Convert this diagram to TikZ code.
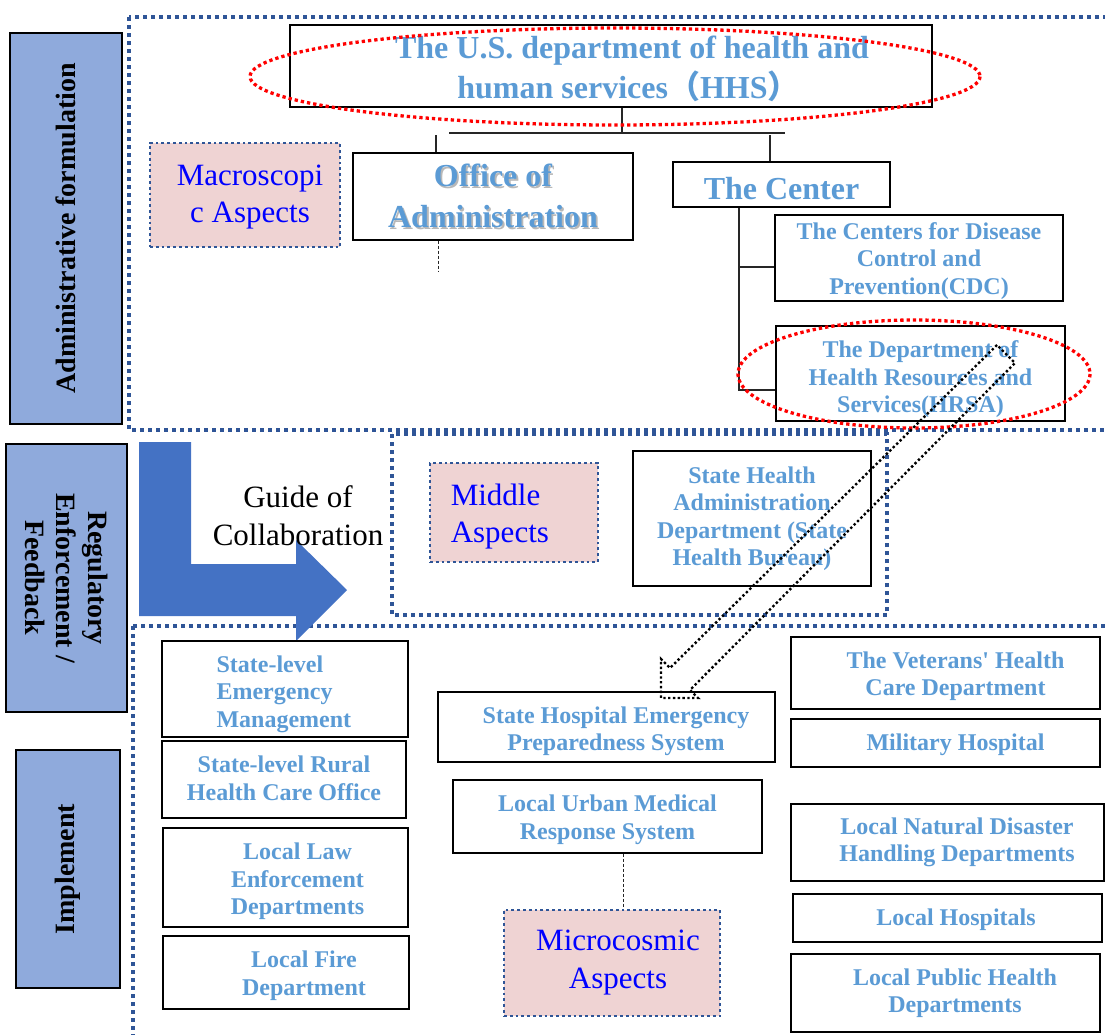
\documentclass[tikz,border=0pt]{standalone}
\usepackage{fontspec}
\setmainfont{Liberation Serif}
\newfontfamily\cjkf{Noto Sans CJK SC}
\definecolor{lblue}{HTML}{5B9BD5}
\definecolor{sideblue}{HTML}{8FAADC}
\definecolor{frameblue}{HTML}{2F5597}
\definecolor{pinkfill}{HTML}{EFD3D3}
\definecolor{arrowblue}{HTML}{4472C4}
\definecolor{pureblue}{HTML}{0000FF}
\newcommand\shtext[1]{\leavevmode\rlap{\hspace{1.8pt}\raisebox{-1.8pt}{\textcolor{black!28}{#1}}}#1}
\tikzset{
  box/.style={draw=black, line width=1.3pt, fill=white, inner sep=0pt},
  txt/.style={inner sep=0pt, align=center},
  btext/.style={txt, font=\bfseries\fontsize{24}{27.5}\selectfont, text=lblue},
  bigtext/.style={txt, font=\bfseries\fontsize{32}{40}\selectfont, text=lblue},
  side/.style={draw=black, line width=1.3pt, fill=sideblue, inner sep=0pt, align=center,
               font=\bfseries\fontsize{28}{31.5}\selectfont},
  frame/.style={draw=frameblue, line width=3.8pt, dash pattern=on 3.8pt off 4.2pt},
  aspect/.style={draw=frameblue, fill=pinkfill, line width=2.8pt, dash pattern=on 2.8pt off 3pt, inner sep=0pt},
  atext/.style={txt, font=\fontsize{31}{37.5}\selectfont, text=pureblue},
  redring/.style={draw=red, line width=3.3pt, dash pattern=on 3.3pt off 3pt},
  conn/.style={draw=black!85, line width=1.2pt},
  dconn/.style={draw=black!85, line width=1pt, dash pattern=on 3pt off 2pt},
  hollowarrow/.style={draw=black, line width=2.4pt, dash pattern=on 2.4pt off 2.4pt},
}
\begin{document}
\begin{tikzpicture}[x=1pt,y=-1pt]
\useasboundingbox (0,0) rectangle (1105,1034);
\clip (0,0) rectangle (1105,1034);

% dotted frames
\draw[frame] (129,17) rectangle (1125,430);
\draw[frame] (392,434) rectangle (887,615);
\draw[frame] (133,626) rectangle (1125,1060);

% side labels
\node[side, rotate=90, minimum width=391pt, minimum height=112pt] (adm) at (66,228.5) {Administrative formulation};
\node[side, rotate=-90, minimum width=268pt, minimum height=121pt] (reg) at (66.5,578) {Regulatory\\Enforcement /\\Feedback};
\node[side, rotate=90, minimum width=238pt, minimum height=104pt] (imp) at (68,869) {Implement};

% top level
\node[box, minimum width=642pt, minimum height=82pt] (hhs) at (611,66) {};
\node[bigtext, xshift=17.5pt, yshift=-3pt] (hhsT) at (hhs)
  {\hspace*{7pt}The U.S. department of health and\\human services{\cjkf （}HHS{\cjkf ）}};
\node[box, minimum width=280pt, minimum height=87pt] (office) at (493,196.5) {};
\node[bigtext, font=\bfseries\fontsize{32}{41}\selectfont] (officeT) at (office)
  {\shtext{Office of}\\\shtext{Administration}};
\node[box, minimum width=217pt, minimum height=45pt] (center) at (781.5,184.5) {};
\node[bigtext, yshift=-4pt] (centerT) at (center) {The Center};
\node[box, minimum width=288pt, minimum height=86pt] (cdc) at (919,258) {};
\node[btext, yshift=-3pt] (cdcT) at (cdc) {The Centers for Disease\\Control and\\Prevention(CDC)};
\node[box, minimum width=289pt, minimum height=95pt] (hrsa) at (920.5,373.5) {};
\node[btext, yshift=-6pt] (hrsaT) at (hrsa) {The Department of\\Health Resources and\\Services(HRSA)};
\node[aspect, minimum width=190pt, minimum height=104pt] (macro) at (245,195) {};
\node[atext, xshift=5pt, yshift=-2pt] (macroT) at (macro) {Macroscopi\\c Aspects};

% connectors top
\coordinate (j1) at (622,133);
\coordinate (busL) at (449,133);
\coordinate (busR) at (785,133);
\coordinate (j2) at (436,135);
\coordinate (j3) at (770,135);
\coordinate (oe) at (438,272);
\coordinate (cv) at (739,0);
\coordinate (cdcy) at (0,267);
\coordinate (hrsay) at (0,390);
\draw[conn] (j1 |- hhs.south) -- (j1);
\draw[conn] (busL) -- (busR);
\draw[conn] (j2) -- (j2 |- office.north);
\draw[conn] (j3) -- (j3 |- center.north);
\draw[dconn] (oe |- office.south) -- (oe);
\draw[conn] (cv |- center.south) -- (cv |- hrsay) -- (hrsa.west |- hrsay);
\draw[conn] (cv |- cdcy) -- (cdc.west |- cdcy);

% middle level
\node[aspect, minimum width=168pt, minimum height=99pt] (middle) at (514,512.5) {};
\node[atext, align=left, anchor=west, xshift=22pt, yshift=-4pt] (middleT) at (middle.west) {Middle\\Aspects};
\node[box, minimum width=238pt, minimum height=135pt] (shealth) at (752,518.5) {};
\node[btext] (shealthT) at (shealth) {State Health\\Administration\\Department (State\\Health Bureau)};

% guide arrow
\fill[arrowblue] (139,442) -- (191,442) -- (191,564) -- (296,564) -- (296,540) -- (347,590)
  -- (296,641) -- (296,616) -- (139,616) -- cycle;
\node[txt, font=\fontsize{31}{38}\selectfont] (guide) at (298,516) {Guide of\\Collaboration};

% bottom level, left column
\node[box, minimum width=246pt, minimum height=96pt] (sem) at (285,689) {};
\node[btext, align=left, anchor=west, xshift=55pt, yshift=-5pt] (semT) at (sem.west) {State-level\\Emergency\\Management};
\node[box, minimum width=244pt, minimum height=77pt] (rural) at (284,779.5) {};
\node[btext, yshift=1pt] (ruralT) at (rural) {State-level Rural\\Health Care Office};
\node[box, minimum width=245pt, minimum height=99pt] (law) at (285.5,877.5) {};
\node[btext, xshift=12pt, yshift=-4pt] (lawT) at (law) {Local Law\\Enforcement\\Departments};
\node[box, minimum width=246pt, minimum height=73pt] (fire) at (286,972.5) {};
\node[btext, xshift=18pt, yshift=-3pt] (fireT) at (fire) {Local Fire\\Department};

% bottom level, middle column
\node[box, minimum width=337pt, minimum height=70pt] (shosp) at (606.5,727) {};
\node[btext, xshift=9.5pt, yshift=-4pt] (shospT) at (shosp) {State Hospital Emergency\\Preparedness System};
\node[box, minimum width=309pt, minimum height=73pt] (urban) at (607.5,816.5) {};
\node[btext, yshift=-3pt] (urbanT) at (urban) {Local Urban Medical\\Response System};
\node[aspect, minimum width=216pt, minimum height=106pt] (micro) at (612,963) {};
\node[atext, font=\fontsize{31}{38}\selectfont, xshift=6pt] (microT) at (micro) {Microcosmic\\Aspects};
\coordinate (mx) at (623,0);
\draw[dconn] (urban.south -| mx) -- (micro.north -| mx);

% bottom level, right column
\node[box, minimum width=309pt, minimum height=72pt] (vet) at (945.5,673) {};
\node[btext, xshift=10pt, yshift=-3pt] (vetT) at (vet) {The Veterans\textquotesingle\ Health\\Care Department};
\node[box, minimum width=309pt, minimum height=48pt] (mil) at (945.5,743) {};
\node[btext, xshift=10pt, yshift=-2pt] (milT) at (mil) {Military Hospital};
\node[box, minimum width=313pt, minimum height=77pt] (nat) at (947.5,842.5) {};
\node[btext, xshift=9.5pt] (natT) at (nat) {Local Natural Disaster\\Handling Departments};
\node[box, minimum width=309pt, minimum height=48pt] (lhosp) at (947.5,918) {};
\node[btext, xshift=8.5pt, yshift=-2pt] (lhospT) at (lhosp) {Local Hospitals};
\node[box, minimum width=309pt, minimum height=78pt] (lph) at (945.5,993) {};
\node[btext, xshift=9.5pt] (lphT) at (lph) {Local Public Health\\Departments};

% red dotted ellipses
\draw[redring] (615,76.5) ellipse [x radius=365, y radius=48.5];
\draw[redring] (914,374) ellipse [x radius=176, y radius=54];

% hollow dotted arrow from HRSA to the state hospital system
\draw[hollowarrow] (997,345) -- (670,668) -- (661,659) -- (661,698) -- (698,698) -- (690,690) -- (1015,363) -- cycle;
\end{tikzpicture}
\end{document}
